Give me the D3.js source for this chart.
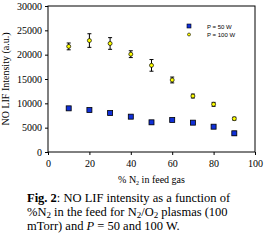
<!DOCTYPE html>
<html>
<head>
<meta charset="utf-8">
<script src="https://cdn.jsdelivr.net/npm/d3@7"></script>
<style>
  body { margin: 0; background: #fff; }
  svg { display: block; }
  .serif, .serif text { font-family: "Liberation Serif", "Times New Roman", "DejaVu Serif", serif; }
</style>
</head>
<body>
<div id="chart"></div>
<script>
const xs = [10, 20, 30, 40, 50, 60, 70, 80, 90];
const p50 = [8970, 8630, 8010, 7260, 6100, 6580, 6030, 5200, 3840];
const p50err = [300, 300, 250, 250, 350, 300, 250, 250, 400];
const p100 = [21700, 22900, 22300, 20100, 17800, 14800, 11500, 9800, 6850];
const p100err = [700, 1400, 1200, 700, 1200, 600, 400, 400, 300];
const xTicks = [0, 20, 40, 60, 80, 100];
const yTicks = [0, 5000, 10000, 15000, 20000, 25000, 30000];
const legendLabels = ["P = 50 W", "P = 100 W"];

const W = 277, H = 248;
const svg = d3.select("#chart").append("svg").attr("width", W).attr("height", H);

const x = d3.scaleLinear().domain([0, 100]).range([48, 255]);
const y = d3.scaleLinear().domain([0, 30000]).range([152, 6]);

// frame
svg.append("rect")
  .attr("x", x(0)).attr("y", y(30000))
  .attr("width", x(100) - x(0)).attr("height", y(0) - y(30000))
  .attr("fill", "none").attr("stroke", "#000").attr("stroke-width", 1);

const xAxis = svg.append("g").attr("transform", `translate(0,${y(0)})`)
  .call(d3.axisBottom(x).tickValues(xTicks).tickSize(3).tickFormat(d3.format("d")));
const yAxis = svg.append("g").attr("transform", `translate(${x(0)},0)`)
  .call(d3.axisLeft(y).tickValues(yTicks).tickSize(3).tickFormat(d3.format("d")));
[xAxis, yAxis].forEach(a => {
  a.select(".domain").remove();
  a.attr("font-family", null).attr("font-size", null).classed("serif", true);
  a.selectAll("text").style("font-size", "10px").attr("fill", "#000");
});
xAxis.selectAll("text").attr("dy", "0.9em");

// axis titles
svg.append("text").attr("class", "serif")
  .attr("transform", `translate(9,${(y(0) + y(30000)) / 2}) rotate(-90)`)
  .attr("text-anchor", "middle").style("font-size", "10px")
  .text("NO LIF Intensity (a.u.)");
const xt = svg.append("text").attr("class", "serif")
  .attr("x", (x(0) + x(100)) / 2).attr("y", 183)
  .attr("text-anchor", "middle").style("font-size", "10px");
xt.append("tspan").text("% N");
xt.append("tspan").style("font-size", "6px").attr("dy", 2).text("2");
xt.append("tspan").attr("dy", -2).text(" in feed gas");

function errBars(vals, errs, cls) {
  const g = svg.append("g").attr("class", cls);
  vals.forEach((v, i) => {
    const cx = x(xs[i]);
    g.append("line").attr("x1", cx).attr("x2", cx)
      .attr("y1", y(v - errs[i])).attr("y2", y(v + errs[i])).attr("stroke", "#000");
    [v - errs[i], v + errs[i]].forEach(e =>
      g.append("line").attr("x1", cx - 2).attr("x2", cx + 2)
        .attr("y1", y(e)).attr("y2", y(e)).attr("stroke", "#000"));
  });
}
errBars(p50, p50err, "err50");
errBars(p100, p100err, "err100");

svg.selectAll("rect.p50").data(p50).join("rect").attr("class", "p50")
  .attr("x", (d, i) => x(xs[i]) - 2.5).attr("y", d => y(d) - 2.5)
  .attr("width", 5).attr("height", 5)
  .attr("fill", "#1030d8").attr("stroke", "#000").attr("stroke-width", 0.8);

svg.selectAll("circle.p100").data(p100).join("circle").attr("class", "p100")
  .attr("cx", (d, i) => x(xs[i])).attr("cy", d => y(d)).attr("r", 2)
  .attr("fill", "#ffff00").attr("stroke", "#000").attr("stroke-width", 0.7);

// legend
const lg = svg.append("g").attr("font-family", "'Liberation Sans', Arial, sans-serif").attr("font-size", 6);
lg.append("rect").attr("x", 187).attr("y", 24).attr("width", 4).attr("height", 4)
  .attr("fill", "#1030d8").attr("stroke", "#000").attr("stroke-width", 0.6);
lg.append("circle").attr("cx", 189).attr("cy", 34.5).attr("r", 1.5)
  .attr("fill", "#ffff00").attr("stroke", "#000").attr("stroke-width", 0.6);
legendLabels.forEach((t, i) =>
  lg.append("text").attr("x", 207).attr("y", 28.5 + i * 8.5).text(t));

// caption
const cap = svg.append("g").attr("class", "serif").style("font-size", "12.5px");
const l1 = cap.append("text").attr("x", 27).attr("y", 202);
l1.append("tspan").attr("font-weight", "bold").text("Fig. 2");
l1.append("tspan").text(": NO LIF intensity as a function of");
const l2 = cap.append("text").attr("x", 27).attr("y", 216);
l2.append("tspan").text("%N");
l2.append("tspan").style("font-size", "9px").attr("dy", 2).text("2");
l2.append("tspan").attr("dy", -2).text(" in the feed for N");
l2.append("tspan").style("font-size", "9px").attr("dy", 2).text("2");
l2.append("tspan").attr("dy", -2).text("/O");
l2.append("tspan").style("font-size", "9px").attr("dy", 2).text("2");
l2.append("tspan").attr("dy", -2).text(" plasmas (100");
const l3 = cap.append("text").attr("x", 27).attr("y", 230);
l3.append("tspan").text("mTorr) and ");
l3.append("tspan").attr("font-style", "italic").text("P");
l3.append("tspan").text(" = 50 and 100 W.");
</script>
</body>
</html>
